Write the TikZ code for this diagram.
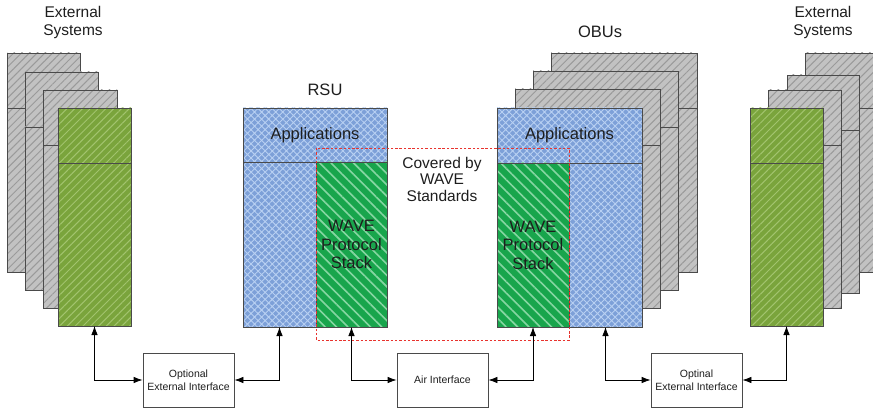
\documentclass[tikz,border=0pt]{standalone}
\usepackage{fontspec}
\setmainfont{Liberation Sans}
\usetikzlibrary{patterns.meta,arrows.meta}
\definecolor{grayfill}{HTML}{C2C2C2}
\definecolor{grayhatch}{HTML}{9A9A9A}
\definecolor{olivefill}{HTML}{7AA43C}
\definecolor{olivehatch}{HTML}{A2C46E}
\definecolor{wgreen}{HTML}{18A54C}
\definecolor{wgreenhatch}{HTML}{86D6A2}
\definecolor{ablue}{HTML}{7DA0D8}
\definecolor{abluehatch}{HTML}{B8D0F2}
\definecolor{edgecol}{HTML}{4A4A4A}
\definecolor{txtcol}{HTML}{1E1E1E}
\definecolor{redcov}{HTML}{E8332E}
\tikzset{
  blk/.style={draw=edgecol, line width=0.9pt, inner sep=0pt, outer sep=0pt, rectangle, anchor=north west, text=txtcol, align=center},
  grayblk/.style={blk, preaction={fill=grayfill}, preaction={pattern={Lines[angle=45,distance=5.5pt,line width=1pt]}, pattern color=grayhatch}},
  oliveblk/.style={blk, preaction={fill=olivefill}, preaction={pattern={Lines[angle=45,distance=5.5pt,line width=1pt]}, pattern color=olivehatch}},
  waveblk/.style={blk, preaction={fill=wgreen}, preaction={pattern={Lines[angle=-45,distance=8pt,line width=1.6pt]}, pattern color=wgreenhatch}},
  appblk/.style={blk, preaction={fill=ablue}, preaction={pattern={Hatch[angle=45,distance=5pt,line width=0.9pt]}, pattern color=abluehatch}},
  ifbox/.style={draw=edgecol, fill=white, line width=0.8pt, minimum width=91pt, minimum height=54pt, inner sep=0pt, align=center, text=txtcol, font=\fontsize{10.5}{13}\selectfont},
  lbl/.style={align=center, text=txtcol, inner sep=0pt},
  bigfont/.style={font=\fontsize{16.5}{18.5}\selectfont},
  extfont/.style={font=\fontsize{15.5}{18}\selectfont},
  arr/.style={{Latex[length=9pt,width=6.5pt]}-{Latex[length=9pt,width=6.5pt]}, line width=0.8pt, draw=black},
  reddash/.style={draw=redcov, line width=0.8pt, dash pattern=on 2.5pt off 1.8pt}
}
\begin{document}
\begin{tikzpicture}[x=1pt,y=-1pt]
\useasboundingbox (0,0) rectangle (873,409);

% ---- left external systems ----
\node[grayblk, minimum width=73pt, minimum height=55pt] (gL1t) at (7,53) {};
\node[grayblk, minimum width=73pt, minimum height=164pt] (gL1b) at (7,108) {};
\node[grayblk, minimum width=73pt, minimum height=55pt] (gL2t) at (25,72) {};
\node[grayblk, minimum width=73pt, minimum height=163pt] (gL2b) at (25,127) {};
\node[grayblk, minimum width=74pt, minimum height=55pt] (gL3t) at (43,90) {};
\node[grayblk, minimum width=74pt, minimum height=163pt] (gL3b) at (43,145) {};
\node[oliveblk, minimum width=73pt, minimum height=55pt] (extLt) at (58,108) {};
\node[oliveblk, minimum width=73pt, minimum height=163pt] (extLb) at (58,163) {};
\node[lbl, extfont] (extLlbl) at (73,22) {External\\Systems};

% ---- RSU ----
\node[appblk, minimum width=144pt, minimum height=54pt, bigfont] (rsuApp) at (243,108) {Applications};
\node[appblk, minimum width=73pt, minimum height=165pt] (rsuL) at (243,162) {};
\node[waveblk, minimum width=71pt, minimum height=165pt, bigfont] (rsuW) at (316,162) {WAVE\\Protocol\\Stack};
\node[lbl, bigfont] (rsuLbl) at (325,90) {RSU};

% ---- OBUs ----
\node[grayblk, minimum width=146pt, minimum height=55pt] (oc1) at (551,53) {};
\node[grayblk, minimum width=146pt, minimum height=164pt] (oc2) at (551,108) {};
\node[grayblk, minimum width=145pt, minimum height=56pt] (ob1) at (533,71) {};
\node[grayblk, minimum width=145pt, minimum height=163pt] (ob2) at (533,127) {};
\node[grayblk, minimum width=145pt, minimum height=56pt] (oa1) at (515,89) {};
\node[grayblk, minimum width=145pt, minimum height=163pt] (oa2) at (515,145) {};
\node[appblk, minimum width=145pt, minimum height=55pt, bigfont] (obuApp) at (497,108) {Applications};
\node[waveblk, minimum width=72pt, minimum height=164pt, bigfont] (obuW) at (497,163) {WAVE\\Protocol\\Stack};
\node[appblk, minimum width=73pt, minimum height=164pt] (obuR) at (569,163) {};
\node[lbl, bigfont] (obuLbl) at (600,32) {OBUs};

% ---- right external systems ----
\node[grayblk, minimum width=73pt, minimum height=55pt] (gR3t) at (805,53) {};
\node[grayblk, minimum width=73pt, minimum height=164pt] (gR3b) at (805,108) {};
\node[grayblk, minimum width=72pt, minimum height=55pt] (gR2t) at (787,75) {};
\node[grayblk, minimum width=72pt, minimum height=163pt] (gR2b) at (787,130) {};
\node[grayblk, minimum width=73pt, minimum height=55pt] (gR1t) at (768,90) {};
\node[grayblk, minimum width=73pt, minimum height=163pt] (gR1b) at (768,145) {};
\node[oliveblk, minimum width=73pt, minimum height=55pt] (extRt) at (750,108) {};
\node[oliveblk, minimum width=73pt, minimum height=163pt] (extRb) at (750,163) {};
\node[lbl, extfont] (extRlbl) at (823,22) {External\\Systems};

% ---- covered by WAVE ----
\draw[reddash] (316,148) rectangle (569,340);
\node[lbl, font=\fontsize{15.5}{16.5}\selectfont] (covLbl) at (442,179) {Covered by\\WAVE\\Standards};

% ---- interfaces ----
\node[ifbox] (ifL) at (188.5,380) {Optional\\External Interface};
\node[ifbox] (ifA) at (442.5,380) {Air Interface};
\node[ifbox] (ifR) at (696.5,380) {Optinal\\External Interface};

\draw[arr] (extLb.south) |- (ifL.west);
\draw[arr] (rsuL.south) |- (ifL.east);
\draw[arr] (rsuW.south) |- (ifA.west);
\draw[arr] (obuW.south) |- (ifA.east);
\draw[arr] (obuR.south) |- (ifR.west);
\draw[arr] (extRb.south) |- (ifR.east);
\end{tikzpicture}
\end{document}
